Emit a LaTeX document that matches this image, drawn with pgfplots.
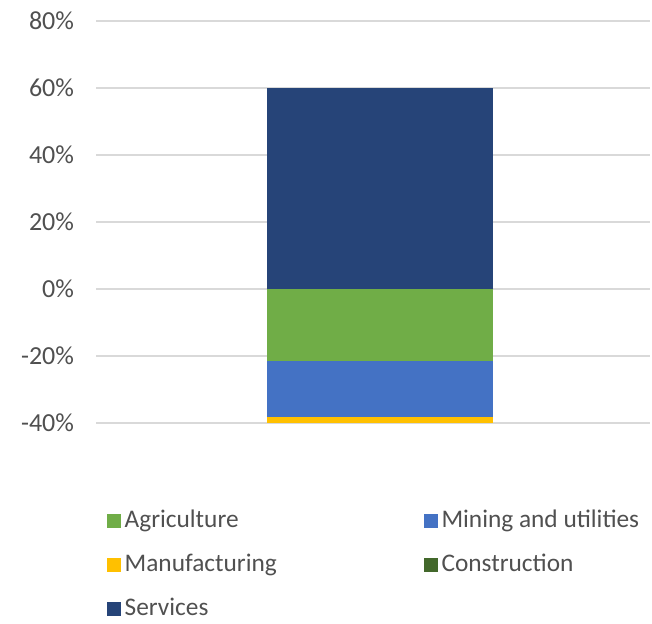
\documentclass[border=0pt]{standalone}
\usepackage{fontspec}
\setmainfont{Carlito}
\usepackage{pgfplots}
\pgfplotsset{compat=1.18}
\definecolor{agri}{HTML}{70AD47}
\definecolor{mining}{HTML}{4472C4}
\definecolor{manu}{HTML}{FFC000}
\definecolor{constr}{HTML}{43682B}
\definecolor{serv}{HTML}{264478}
\definecolor{gridc}{HTML}{D9D9D9}
\definecolor{textc}{HTML}{505050}
\begin{document}
\begin{tikzpicture}
\begin{axis}[
  at={(0,0)}, anchor=south west,
  width=415.5pt, height=301.5pt, scale only axis,
  xmin=0, xmax=1, ymin=-40, ymax=80,
  ytick={-40,-20,0,20,40,60,80},
  yticklabels={-40\%,-20\%,0\%,20\%,40\%,60\%,80\%},
  xtick=\empty,
  axis line style={draw=none},
  tick style={draw=none},
  major tick length=0pt,
  ymajorgrids, grid style={draw=gridc, line width=1.1pt},
  tick label style={font=\fontsize{19.5}{23}\selectfont, text=textc},
  yticklabel shift=13pt,
  ybar, bar width=0.408, bar shift=0pt,
  legend columns=2,
  legend cell align=left,
  legend style={draw=none, fill=none, inner sep=0pt,
    at={(axis description cs:0.02,-0.207)}, anchor=north west,
    font=\fontsize{19}{23}\selectfont, text=textc,
    nodes={inner sep=1.5pt, text height=14pt, text depth=5pt},
    row sep=11pt,
    /tikz/every odd column/.append style={column sep=1.5pt},
    /tikz/every even column/.append style={column sep=109pt}},
  legend image code/.code={\fill[#1, draw=none] (0pt,-5pt) rectangle (10pt,5pt);},
]
\addlegendimage{fill=agri, draw=none}\addlegendentry{Agriculture}
\addlegendimage{fill=mining, draw=none}\addlegendentry{Mining and utilities}
\addlegendimage{fill=manu, draw=none}\addlegendentry{Manufacturing}
\addlegendimage{fill=constr, draw=none}\addlegendentry{Construction}
\addlegendimage{fill=serv, draw=none}\addlegendentry{Services}
% cumulative bar ends (drawn back to front): manufacturing, mining, agriculture, services
\addplot[forget plot, fill=manu, draw=none] coordinates {(0.513,-39.9)};
\addplot[forget plot, fill=mining, draw=none] coordinates {(0.513,-38.1)};
\addplot[forget plot, fill=agri, draw=none] coordinates {(0.513,-21.5)};
\addplot[forget plot, fill=serv, draw=none] coordinates {(0.513,60)};
\end{axis}
\path[use as bounding box] (-72pt,-147pt) rectangle (417pt,317.25pt);
\end{tikzpicture}
\end{document}
